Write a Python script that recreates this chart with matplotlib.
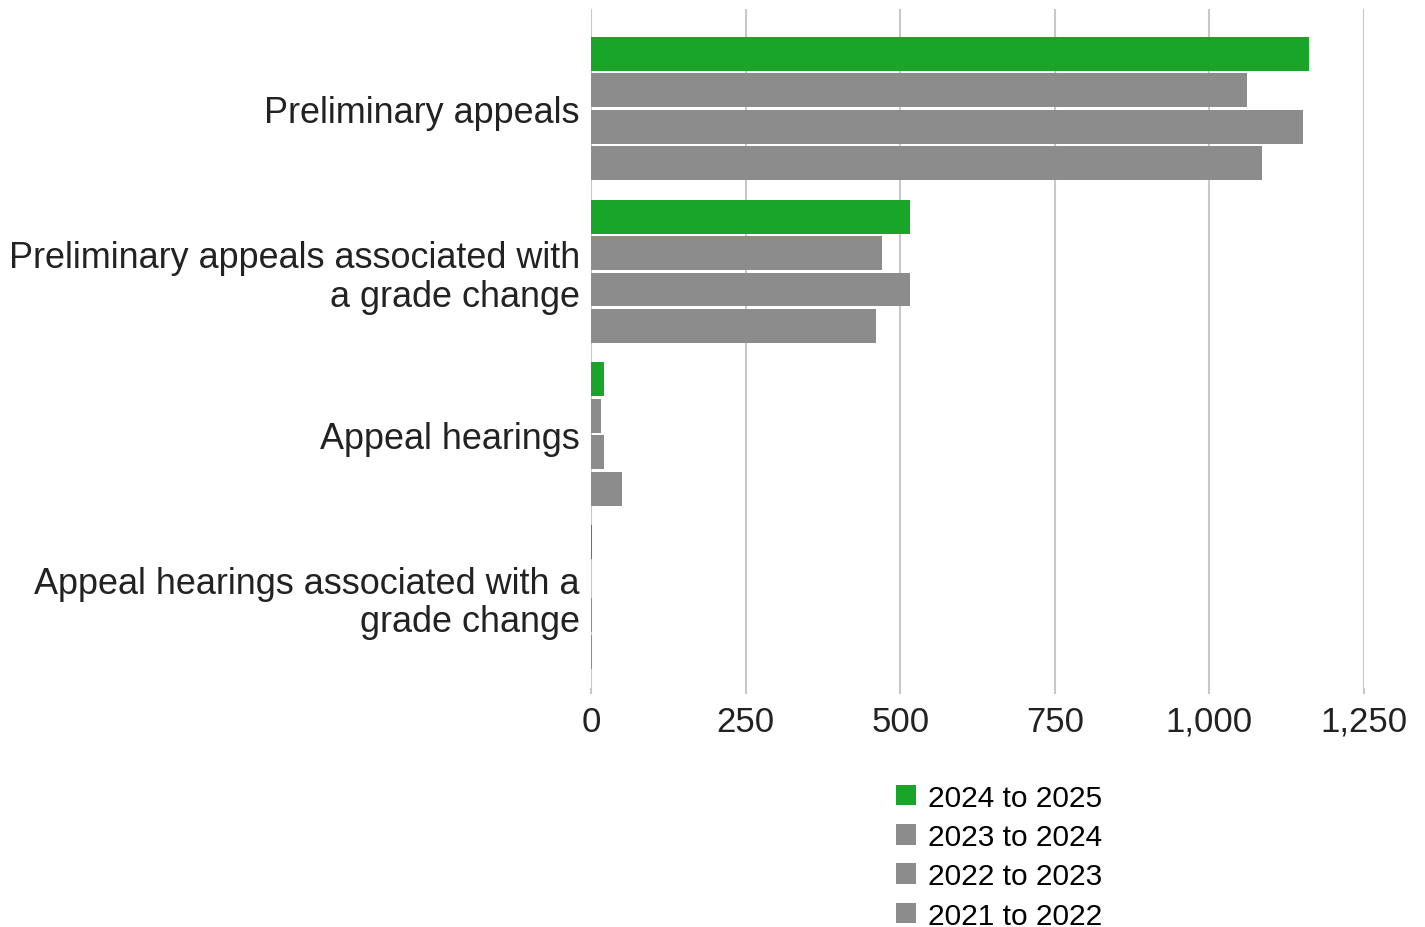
import numpy as np
import matplotlib
matplotlib.use('Agg')
import matplotlib.pyplot as plt
from matplotlib.ticker import FuncFormatter

plt.rcParams['font.family'] = ['Liberation Sans', 'DejaVu Sans']

# データ
categories = ['Preliminary appeals',
              'Preliminary appeals associated with\na grade change',
              'Appeal hearings',
              'Appeal hearings associated with a\ngrade change']
series_names = ['2024 to 2025', '2023 to 2024', '2022 to 2023', '2021 to 2022']
v_2024_25 = [1161, 516, 21, 2]
v_2023_24 = [1061, 471, 16, 0]
v_2022_23 = [1151, 516, 21, 1]
v_2021_22 = [1085, 461, 51, 1]
series_vals = [v_2024_25, v_2023_24, v_2022_23, v_2021_22]
colors = ['#18a52a', '#8c8c8c', '#8c8c8c', '#8c8c8c']
xticks = [0, 250, 500, 750, 1000, 1250]

fig = plt.figure(figsize=(14.25, 9.28), dpi=100)
ax = fig.add_axes([0.4147, 0.2575, 0.5425, 0.7315])

y = np.arange(len(categories))
pitch = 0.224
for i, (name, vals, c) in enumerate(zip(series_names, series_vals, colors)):
    ax.barh(y + (i - 1.5) * pitch, vals, height=0.208, color=c,
            linewidth=0, label=name, zorder=3)

ax.set_xlim(0, 1250)
ax.set_ylim(3.56, -0.61)
ax.set_yticks(y)
ax.set_yticklabels(categories, fontsize=25.9, color='#222222', linespacing=1.12)
ax.set_xticks(xticks)
ax.xaxis.set_major_formatter(FuncFormatter(lambda v, p: f'{int(v):,}'))
for lab in ax.get_xticklabels():
    lab.set_fontsize(25)
    lab.set_color('#222222')
ax.tick_params(axis='y', length=0, pad=8)
ax.tick_params(axis='x', length=4, color='#c8c8c8', width=1.5, pad=8)
ax.grid(axis='x', color='#c8c8c8', lw=1.5, zorder=0)
for s in ax.spines.values():
    s.set_visible(False)

leg = fig.legend(loc='upper left', bbox_to_anchor=(0.6205, 0.1675), frameon=False,
                 fontsize=21.5, handlelength=0.68, handleheight=0.68,
                 handletextpad=0.4, labelspacing=0.38, borderaxespad=0)

plt.savefig('out.png', dpi=100)
